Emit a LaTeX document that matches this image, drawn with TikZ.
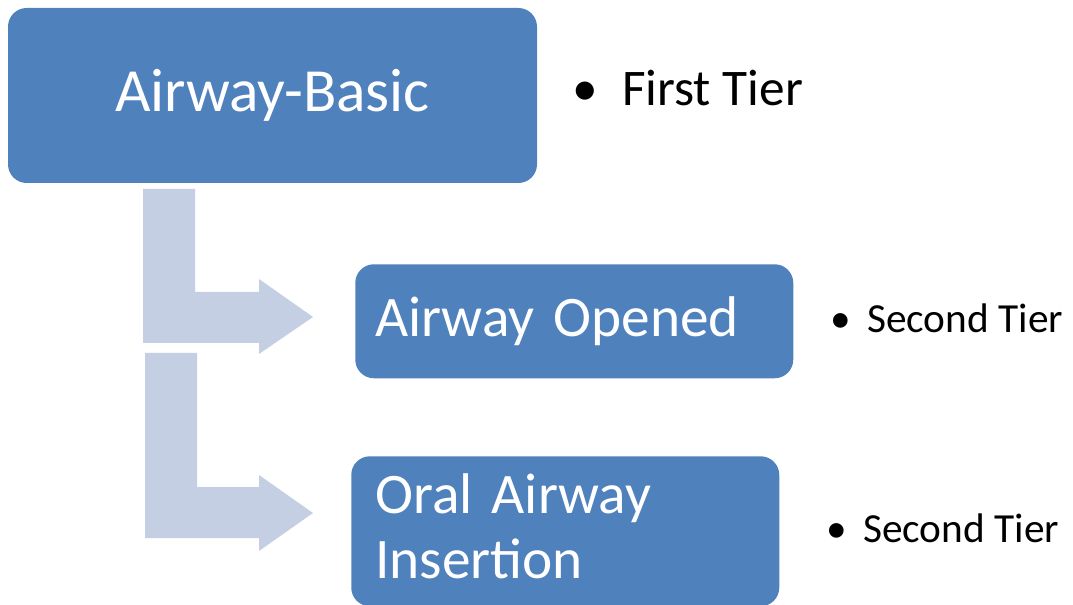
\documentclass[tikz,border=0pt]{standalone}
\usepackage{fontspec}
\setmainfont{Carlito}
\definecolor{boxblue}{HTML}{4F81BD}
\definecolor{arrowgray}{HTML}{C5CFE3}
\tikzset{
  tierbox/.style={draw=none, fill=boxblue, rounded corners=14pt, text=white},
  tierlabel/.style={anchor=base west, inner sep=0pt, text=black},
}

\begin{document}
\begin{tikzpicture}[x=0.75pt,y=-0.75pt]
  \useasboundingbox (0,0) rectangle (1073,605);

  % bent block arrows
  \foreach \xl/\xr/\ytop/\ybar/\ybot/\yhead/\yfoot/\ytip in
      {143/195/189/292/343/279/354/317, 145/197/353/487/538/475/551/513}
    \fill[arrowgray] (\xl,\ytop) -- (\xr,\ytop) -- (\xr,\ybar) -- (259,\ybar)
      -- (259,\yhead) -- (313,\ytip) -- (259,\yfoot) -- (259,\ybot)
      -- (\xl,\ybot) -- cycle;

  % boxes
  \node[tierbox, minimum width=396.75pt, minimum height=131.25pt,
        font=\fontsize{46}{55}\selectfont] (basic) at (272.5,95.5) {Airway-Basic};
  \node[tierbox, anchor=north west, minimum width=328.5pt, minimum height=85.5pt,
        inner xsep=15pt, text width=298.5pt, align=left,
        font=\fontsize{43}{48.75}\selectfont] (opened) at (355,264) {Airway Opened};
  \node[tierbox, anchor=north west, minimum width=321pt, minimum height=112.5pt,
        inner xsep=18pt, text width=285pt, align=left,
        font=\fontsize{43}{48.75}\selectfont] (insertion) at (351,456)
    {Oral Airway\\Insertion\rule[-7.5pt]{0pt}{0pt}};

  % tier labels
  \node[tierlabel, font=\fontsize{38.5}{46}\selectfont] (firsttier) at (572.5,106)
    {\makebox[37pt][l]{\textbullet}First Tier};
  \node[tierlabel, font=\fontsize{31}{37}\selectfont] (secondtierA) at (830,333)
    {\makebox[27.75pt][l]{\textbullet}Second Tier};
  \node[tierlabel, font=\fontsize{31}{37}\selectfont] (secondtierB) at (826,542)
    {\makebox[27.75pt][l]{\textbullet}Second Tier};
\end{tikzpicture}
\end{document}
